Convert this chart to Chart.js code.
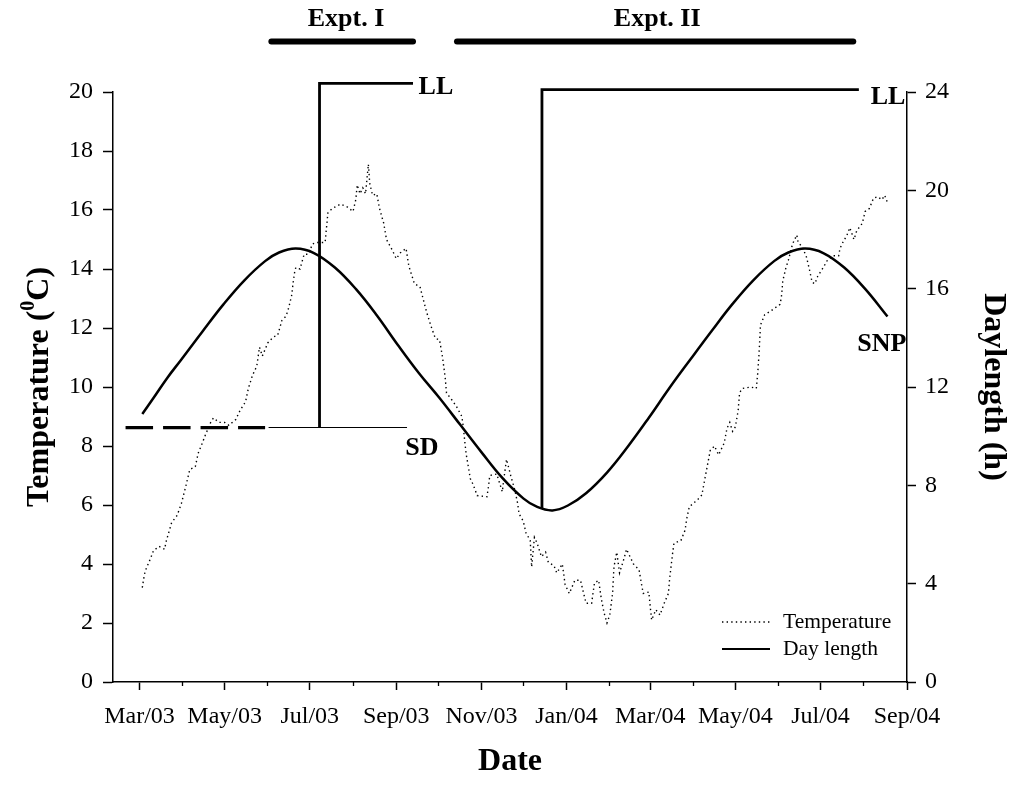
<!DOCTYPE html>
<html>
<head>
<meta charset="utf-8">
<script src="https://cdn.jsdelivr.net/npm/chart.js@4.4.1/dist/chart.umd.min.js"></script>
<style>
  html, body { margin: 0; padding: 0; background: #fff; }
  #wrap { width: 1016px; height: 787px; position: relative; }
</style>
</head>
<body>
<div id="wrap"><canvas id="c" width="1016" height="787"></canvas></div>
<script>
// ---------------- DATA (x values = days since 1 Mar 2003) ----------------
const tempDay = [2,3,4,8,10,14,18,19,23,27,30,33,36,40,42,45,47,51,53,57,61,64,69,72,76,78,81,84,86,88,92,96,99,102,105,107,109,110,111,112,115,118,121,124,127,133,134,135,138,144,149,153,155,156,158,160,162,164,165,167,170,172,175,177,181,184,187,191,193,197,201,204,206,209,212,215,217,219,220,224,227,231,232,233,234,236,237,239,242,249,250,251,256,260,261,263,266,269,271,272,275,277,280,281,283,285,288,291,293,297,299,303,305,308,312,316,320,324,326,329,331,333,335,337,339,340,342,344,347,349,354,358,360,361,365,366,367,370,373,376,379,380,382,383,388,391,392,394,398,401,403,405,407,409,412,415,419,421,423,425,427,429,430,432,438,442,443,444,445,448,453,459,460,461,463,465,468,471,472,475,478,480,482,484,486,490,493,497,501,502,504,507,509,512,514,518,520,523,526,529,532,534,536];
const tempC = [3.2,3.5,3.75,4.2,4.45,4.6,4.5,4.75,5.4,5.65,6.05,6.6,7.2,7.3,7.75,8.1,8.35,8.8,8.95,8.8,8.8,8.7,8.9,9.2,9.5,9.95,10.4,10.7,11.35,11.05,11.5,11.7,11.75,12.25,12.4,12.7,13.1,13.5,13.85,14.05,14.0,14.5,14.5,14.85,14.9,14.9,15.4,15.9,16.05,16.2,16.1,15.95,16.35,16.85,16.55,16.75,16.55,17.55,16.9,16.5,16.55,16.05,15.55,15.0,14.65,14.35,14.55,14.7,14.1,13.5,13.4,12.85,12.5,12.05,11.65,11.6,11.05,10.35,9.8,9.55,9.35,9.0,8.65,8.2,7.75,7.2,6.9,6.7,6.32,6.28,6.6,7.0,7.05,6.45,6.85,7.55,7.0,6.5,6.05,5.7,5.45,5.05,4.8,3.9,4.9,4.7,4.25,4.4,4.05,3.95,3.7,4.0,3.3,3.0,3.45,3.45,2.67,2.67,3.35,3.45,2.8,2.33,2.0,2.27,3.0,3.9,4.4,3.7,4.15,4.5,4.0,3.8,3.25,3.0,3.05,2.55,2.1,2.45,2.27,2.67,3.0,3.55,4.35,4.7,4.8,5.15,5.5,5.94,6.1,6.23,6.34,6.85,7.35,7.85,8.0,7.7,8.1,8.6,8.8,8.5,8.65,9.2,9.8,9.95,10.0,9.95,10.45,11.15,12.1,12.45,12.6,12.8,13.05,13.6,14.0,14.3,14.85,15.15,14.9,14.75,14.4,14.0,13.55,13.5,13.75,14.05,14.3,14.45,14.45,14.7,14.9,15.15,15.4,15.0,15.3,15.55,15.95,16.05,16.4,16.45,16.35,16.5,16.25];

const dayLenDay = [2,10,20,30,45,60,75,90,100,112,125,140,155,170,185,200,215,230,245,260,275,285,296,307,320,335,350,365,380,395,410,425,440,455,465,477,490,505,520,536];
const dayLenH   = [10.9,11.55,12.38,13.12,14.25,15.35,16.33,17.12,17.47,17.63,17.45,16.86,15.99,14.92,13.72,12.58,11.55,10.45,9.35,8.3,7.47,7.12,6.98,7.18,7.68,8.52,9.58,10.75,11.98,13.14,14.28,15.38,16.35,17.13,17.47,17.63,17.45,16.86,15.99,14.87];

// Treatments (daylength, h)
const llExptIDay  = [129, 129, 196];
const llExptIH    = [10.35, 24.35, 24.35];
const llExptIIDay = [288.4, 288.4, 515.5];
const llExptIIH   = [7.06, 24.1, 24.1];
const sdNaturalDay = [-10, 90];
const sdNaturalH   = [10.35, 10.35];
const sdExptDay    = [92.5, 191.7];
const sdExptH      = [10.35, 10.35];
// Experiment periods
const exptIDay  = [94.5, 196];
const exptIIDay = [227.5, 511.5];
const exptBarH  = [26.05, 26.05];

// Axis ticks
const majorTickDays   = [0, 61, 122, 184, 245, 306, 366, 427, 488, 550];
const majorTickLabels = ['Mar/03','May/03','Jul/03','Sep/03','Nov/03','Jan/04','Mar/04','May/04','Jul/04','Sep/04'];
const minorTickDays   = [31, 92, 153, 214, 275, 337, 397, 458, 519];
const tempTicks   = [0,2,4,6,8,10,12,14,16,18,20];
const dayLenTicks = [0,4,8,12,16,20,24];

// Text annotations (in data coordinates: day, daylength h)
const notes = [
  { text: 'LL', day: 200, h: 24.2, align: 'left' },
  { text: 'LL', day: 524, h: 23.8, align: 'left' },
  { text: 'SD', day: 190.5, h: 9.5, align: 'left' },
  { text: 'SNP', day: 514.3, h: 13.73, align: 'left' },
  { text: 'Expt. I', day: 148, h: 26.95, align: 'center' },
  { text: 'Expt. II', day: 371, h: 26.95, align: 'center' }
];

// ---------------- helpers ----------------
const pts = (xs, ys) => xs.map((x, i) => ({ x: x, y: ys[i] }));
const SERIF = '"Liberation Serif", "Times New Roman", Times, serif';
const BLACK = '#000';
const tempDash = [1.4, 3.2];

const leftTitlePlugin = {
  id: 'leftTitle',
  afterDraw(chart) {
    const ctx = chart.ctx, ca = chart.chartArea;
    const fs = 32;
    const mainF = `bold ${fs}px ${SERIF}`;
    const supF = `bold ${Math.round(fs * 0.62)}px ${SERIF}`;
    const parts = [['Temperature (', mainF, 0], ['0', supF, -fs * 0.36], ['C)', mainF, 0]];
    ctx.save();
    let total = 0;
    const widths = parts.map(p => { ctx.font = p[1]; const w = ctx.measureText(p[0]).width; total += w; return w; });
    ctx.translate(40, (ca.top + ca.bottom) / 2);
    ctx.rotate(-Math.PI / 2);
    ctx.fillStyle = BLACK;
    ctx.textBaseline = 'middle';
    ctx.textAlign = 'left';
    let x = -total / 2;
    parts.forEach((p, i) => { ctx.font = p[1]; ctx.fillText(p[0], x, p[2]); x += widths[i]; });
    ctx.restore();
  }
};

const notesPlugin = {
  id: 'notes',
  afterDatasetsDraw(chart) {
    const ctx = chart.ctx, xs = chart.scales.x, ys = chart.scales.y2;
    ctx.save();
    ctx.fillStyle = BLACK;
    ctx.font = `bold 26px ${SERIF}`;
    ctx.textBaseline = 'middle';
    notes.forEach(n => {
      ctx.textAlign = n.align;
      ctx.fillText(n.text, xs.getPixelForValue(n.day), ys.getPixelForValue(n.h));
    });
    ctx.restore();
  }
};

const legendPlugin = {
  id: 'boxLegend',
  afterDraw(chart) {
    const ctx = chart.ctx, ca = chart.chartArea;
    const items = [
      { label: 'Temperature', dash: tempDash, width: 1.4 },
      { label: 'Day length', dash: [], width: 2 }
    ];
    ctx.save();
    ctx.font = `21.5px ${SERIF}`;
    ctx.fillStyle = BLACK;
    ctx.strokeStyle = BLACK;
    ctx.textBaseline = 'middle';
    ctx.textAlign = 'left';
    items.forEach((it, i) => {
      const y = ca.bottom - 60 + i * 27;
      ctx.beginPath();
      ctx.setLineDash(it.dash);
      ctx.lineWidth = it.width;
      ctx.moveTo(ca.right - 185, y);
      ctx.lineTo(ca.right - 137, y);
      ctx.stroke();
      ctx.setLineDash([]);
      ctx.fillText(it.label, ca.right - 124, y);
    });
    ctx.restore();
  }
};

const tickFont = { family: SERIF, size: 24 };
const titleFont = { family: SERIF, size: 32, weight: 'bold' };

new Chart(document.getElementById('c'), {
  type: 'line',
  data: {
    datasets: [
      { label: 'Temperature', data: pts(tempDay, tempC), yAxisID: 'y', borderColor: BLACK, borderWidth: 1.4, borderDash: tempDash, pointRadius: 0, tension: 0, fill: false },
      { label: 'Day length', data: pts(dayLenDay, dayLenH), yAxisID: 'y2', borderColor: BLACK, borderWidth: 2.5, pointRadius: 0, tension: 0.4, fill: false },
      { label: 'LL Expt I', data: pts(llExptIDay, llExptIH), yAxisID: 'y2', borderColor: BLACK, borderWidth: 2.8, pointRadius: 0, tension: 0, clip: false, borderJoinStyle: 'miter' },
      { label: 'LL Expt II', data: pts(llExptIIDay, llExptIIH), yAxisID: 'y2', borderColor: BLACK, borderWidth: 2.8, pointRadius: 0, tension: 0, clip: false, borderJoinStyle: 'miter' },
      { label: 'SD natural', data: pts(sdNaturalDay, sdNaturalH), yAxisID: 'y2', borderColor: BLACK, borderWidth: 3.2, borderDash: [27.5, 10], pointRadius: 0, tension: 0, clip: false },
      { label: 'SD expt', data: pts(sdExptDay, sdExptH), yAxisID: 'y2', borderColor: BLACK, borderWidth: 1.1, pointRadius: 0, tension: 0, clip: false },
      { label: 'Expt I', data: pts(exptIDay, exptBarH), yAxisID: 'y2', borderColor: BLACK, borderWidth: 6, borderCapStyle: 'round', pointRadius: 0, clip: false },
      { label: 'Expt II', data: pts(exptIIDay, exptBarH), yAxisID: 'y2', borderColor: BLACK, borderWidth: 6, borderCapStyle: 'round', pointRadius: 0, clip: false }
    ]
  },
  options: {
    responsive: false,
    animation: false,
    devicePixelRatio: 1,
    events: [],
    layout: { padding: { top: 92, left: 0, right: 0, bottom: 0 } },
    plugins: { legend: { display: false }, tooltip: { enabled: false }, title: { display: false } },
    scales: {
      xMinor: {
        type: 'linear', position: 'bottom', weight: 0, min: -19, max: 550,
        afterBuildTicks: s => { s.ticks = minorTickDays.map(v => ({ value: v })); },
        ticks: { display: false },
        grid: { drawOnChartArea: false, drawTicks: true, tickLength: 4, tickColor: BLACK, tickWidth: 1.3 },
        border: { display: false },
        afterFit: s => { s.height = 0; }
      },
      x: {
        type: 'linear', position: 'bottom', weight: 1, min: -19, max: 550,
        afterBuildTicks: s => { s.ticks = majorTickDays.map(v => ({ value: v })); },
        ticks: {
          autoSkip: false, maxRotation: 0, minRotation: 0, color: BLACK, font: tickFont, padding: 12,
          callback: v => { const i = majorTickDays.indexOf(v); return i >= 0 ? majorTickLabels[i] : ''; }
        },
        grid: { drawOnChartArea: false, tickLength: 8, tickColor: BLACK, tickWidth: 1.5 },
        border: { display: true, color: BLACK, width: 1.5 },
        title: { display: true, text: 'Date', color: BLACK, font: titleFont, padding: { top: 0, bottom: 6 } },
        afterFit: s => { s.height = 105; }
      },
      y: {
        type: 'linear', position: 'left', min: 0, max: 20,
        afterBuildTicks: s => { s.ticks = tempTicks.map(v => ({ value: v })); },
        ticks: { color: BLACK, font: tickFont, padding: 10 },
        grid: { drawOnChartArea: false, tickLength: 10, tickColor: BLACK, tickWidth: 1.5 },
        border: { display: true, color: BLACK, width: 1.5 },
        afterFit: s => { s.width = 113; }
      },
      y2: {
        type: 'linear', position: 'right', min: 0, max: 24,
        afterBuildTicks: s => { s.ticks = dayLenTicks.map(v => ({ value: v })); },
        ticks: { color: BLACK, font: tickFont, padding: 9 },
        grid: { drawOnChartArea: false, tickLength: 9, tickColor: BLACK, tickWidth: 1.5 },
        border: { display: true, color: BLACK, width: 1.5 },
        title: { display: true, text: 'Daylength (h)', color: BLACK, font: titleFont, padding: { top: 4, bottom: 0 } },
        afterFit: s => { s.width = 109; }
      }
    }
  },
  plugins: [leftTitlePlugin, notesPlugin, legendPlugin]
});
</script>
</body>
</html>
